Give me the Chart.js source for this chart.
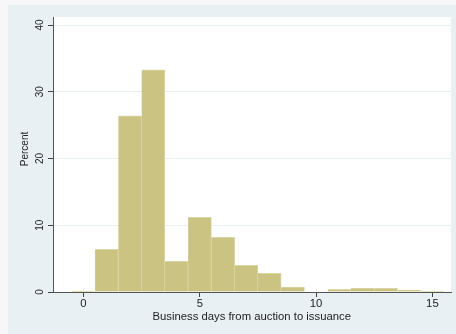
<!DOCTYPE html>
<html>
<head>
<meta charset="utf-8">
<script src="https://cdn.jsdelivr.net/npm/chart.js@4/dist/chart.umd.min.js"></script>
<style>
  html, body { margin: 0; padding: 0; background: #f7f7f7; }
  #wrap { width: 456px; height: 334px; }
</style>
</head>
<body>
<div id="wrap"><canvas id="c" width="456" height="334"></canvas></div>
<script>
// Histogram bins (business days) and the share of auctions in each bin
const days = [0, 1, 2, 3, 4, 5, 6, 7, 8, 9, 10, 11, 12, 13, 14, 15];
const percent = [0.12, 6.4, 26.4, 33.3, 4.6, 11.2, 8.2, 4.0, 2.8, 0.75, 0.0, 0.4, 0.6, 0.55, 0.25, 0.1];
const xTicks = [0, 5, 10, 15];
const yTicks = [0, 10, 20, 30, 40];
const xTitle = 'Business days from auction to issuance';
const yTitle = 'Percent';

const FONT = '"Liberation Sans", Arial, sans-serif';
const TEXT = '#222';
const WIDEN = 1.13; // horizontal text is drawn slightly wide

// Backdrop: outer page band, shaded graph region, white plot region
const backdrop = {
  id: 'backdrop',
  beforeDraw(chart) {
    const { ctx, chartArea: a } = chart;
    ctx.save();
    ctx.fillStyle = '#f7f7f7';
    ctx.fillRect(0, 0, chart.width, chart.height);
    ctx.fillStyle = '#e9f0f3';
    ctx.fillRect(8, 5, chart.width - 8, chart.height - 5);
    ctx.fillStyle = '#ffffff';
    ctx.fillRect(a.left, a.top, a.right - a.left, a.bottom - a.top);
    ctx.restore();
  }
};

// Axis labels: rotated y tick labels and title, widened x tick labels and title
const axisText = {
  id: 'axisText',
  afterDraw(chart) {
    const { ctx } = chart;
    const y = chart.scales.y;
    const x = chart.scales.x;
    ctx.save();
    ctx.fillStyle = TEXT;
    ctx.font = '10px ' + FONT;

    ctx.textAlign = 'center';
    ctx.textBaseline = 'middle';
    y.ticks.forEach(t => {
      const py = y.getPixelForValue(t.value);
      ctx.save();
      ctx.translate(40.5, py);
      ctx.rotate(-Math.PI / 2);
      ctx.fillText(String(t.value), 0, 0);
      ctx.restore();
    });
    ctx.save();
    ctx.translate(25.5, 149);
    ctx.rotate(-Math.PI / 2);
    ctx.fillText(yTitle, 0, 0);
    ctx.restore();

    ctx.textBaseline = 'alphabetic';
    x.ticks.forEach(t => {
      const px = x.getPixelForValue(t.value);
      ctx.save();
      ctx.translate(px, 307);
      ctx.scale(WIDEN, 1);
      ctx.fillText(String(t.value), 0, 0);
      ctx.restore();
    });
    ctx.save();
    ctx.translate(251.7, 319.5);
    ctx.scale(WIDEN, 1);
    ctx.fillText(xTitle, 0, 0);
    ctx.restore();
    ctx.restore();
  }
};

new Chart(document.getElementById('c'), {
  type: 'bar',
  data: {
    datasets: [{
      data: days.map((d, i) => ({ x: d, y: percent[i] })),
      backgroundColor: '#cbc382',
      borderColor: '#dcd6a6',
      borderWidth: { top: 1, right: 1, left: 0, bottom: 0 },
      borderSkipped: false,
      barPercentage: 1,
      categoryPercentage: 1
    }]
  },
  options: {
    responsive: false,
    animation: false,
    devicePixelRatio: 1,
    layout: { padding: { left: 0, top: 17, right: 5, bottom: 0 } },
    plugins: { legend: { display: false }, tooltip: { enabled: false } },
    scales: {
      x: {
        type: 'linear',
        offset: false,
        min: -1.31,
        max: 15.8,
        afterBuildTicks(s) { s.ticks = xTicks.map(v => ({ value: v })); },
        afterFit(s) { s.height = 42; },
        grid: { offset: false, drawOnChartArea: false, tickLength: 5, tickColor: '#444' },
        border: { display: true, color: '#555', width: 1 },
        ticks: { display: false }
      },
      y: {
        min: 0,
        max: 41.2,
        afterBuildTicks(s) { s.ticks = yTicks.map(v => ({ value: v })); },
        afterFit(s) { s.width = 53; },
        grid: {
          color: ctx => (ctx.tick && ctx.tick.value === 0) ? 'rgba(0,0,0,0)' : '#e8f0f1',
          tickLength: 5,
          tickColor: '#444'
        },
        border: { display: true, color: '#555', width: 1 },
        ticks: { display: false }
      }
    }
  },
  plugins: [backdrop, axisText]
});
</script>
</body>
</html>
